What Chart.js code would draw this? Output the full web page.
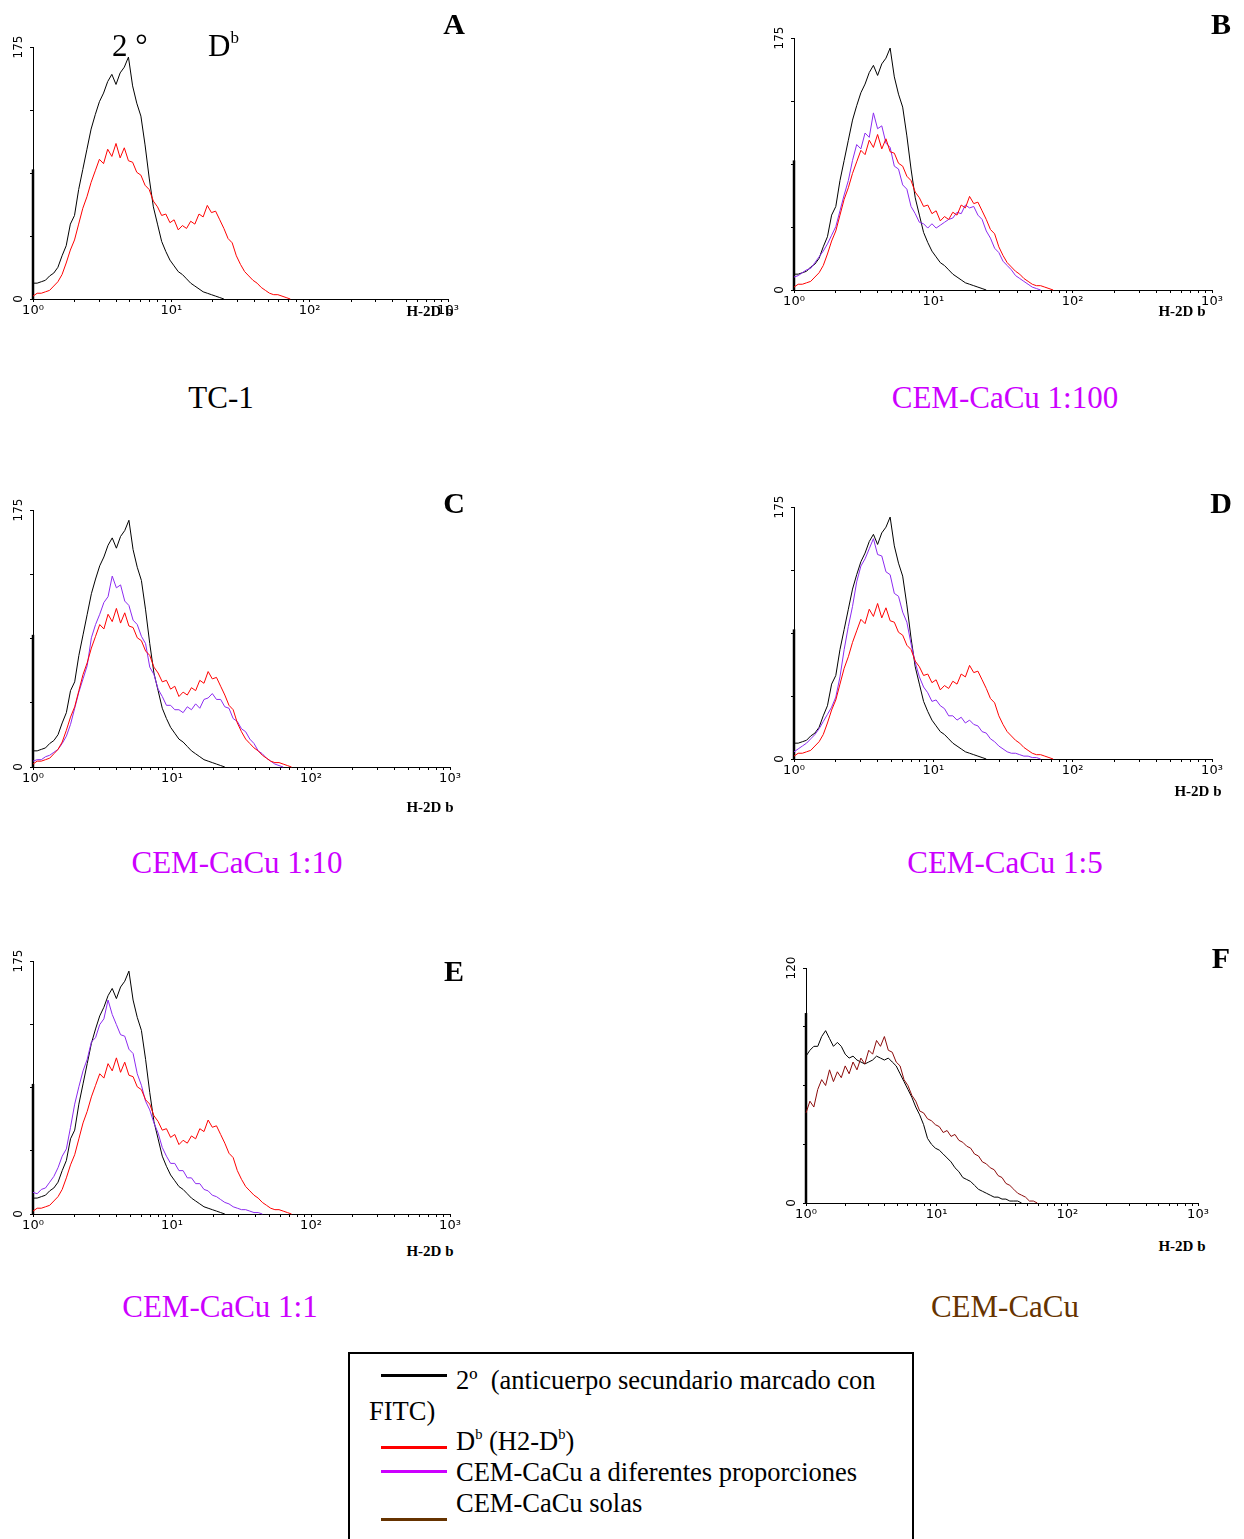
<!DOCTYPE html>
<html>
<head>
<meta charset="utf-8">
<script src="https://cdn.jsdelivr.net/npm/chart.js@4.4.0/dist/chart.umd.min.js"></script>
<style>
  html, body { margin: 0; padding: 0; background: #fff; overflow: hidden; }
  body { width: 1244px; height: 1539px; position: relative; font-family: "Liberation Serif", "Times New Roman", serif; color: #000; }
  canvas { position: absolute; }
  .t { position: absolute; white-space: nowrap; line-height: 1; }
  .c { transform: translate(-50%, -50%); }
  .l { transform: translate(0, -50%); }
  .letter { font-weight: bold; font-size: 30px; }
  .axname { font-weight: bold; font-size: 15px; }
  .title { font-size: 31px; }
  .leg { font-size: 26.5px; }
  .legline { position: absolute; left: 381px; width: 66px; height: 3px; }
  sup { font-size: 0.55em; vertical-align: 0.75em; line-height: 0; }
  #legendBox { position: absolute; left: 348px; top: 1352px; width: 566px; height: 200px; border: 2px solid #000; box-sizing: border-box; }
</style>
</head>
<body>

<canvas id="chartA"></canvas>
<canvas id="chartB"></canvas>
<canvas id="chartC"></canvas>
<canvas id="chartD"></canvas>
<canvas id="chartE"></canvas>
<canvas id="chartF"></canvas>

<!-- panel letters -->
<div class="t c letter" style="left:454px;top:24px">A</div>
<div class="t c letter" style="left:1221px;top:24px">B</div>
<div class="t c letter" style="left:454px;top:503px">C</div>
<div class="t c letter" style="left:1221px;top:503px">D</div>
<div class="t c letter" style="left:454px;top:971px">E</div>
<div class="t c letter" style="left:1221px;top:958px">F</div>

<!-- curve tags in A -->
<div class="t l" style="left:112px;top:45px;font-size:31px">2 °</div>
<div class="t l" style="left:208px;top:45px;font-size:31px">D<sup>b</sup></div>

<!-- axis names -->
<div class="t c axname" style="left:430px;top:311px">H-2D b</div>
<div class="t c axname" style="left:1182px;top:311px">H-2D b</div>
<div class="t c axname" style="left:430px;top:807px">H-2D b</div>
<div class="t c axname" style="left:1198px;top:791px">H-2D b</div>
<div class="t c axname" style="left:430px;top:1251px">H-2D b</div>
<div class="t c axname" style="left:1182px;top:1246px">H-2D b</div>

<!-- panel titles -->
<div class="t c title" style="left:221px;top:397px">TC-1</div>
<div class="t c title" style="left:1005px;top:397px;color:#cc00ff">CEM-CaCu 1:100</div>
<div class="t c title" style="left:237px;top:862px;color:#cc00ff">CEM-CaCu 1:10</div>
<div class="t c title" style="left:1005px;top:862px;color:#cc00ff">CEM-CaCu 1:5</div>
<div class="t c title" style="left:220px;top:1306px;color:#cc00ff">CEM-CaCu 1:1</div>
<div class="t c title" style="left:1005px;top:1306px;color:#663300">CEM-CaCu</div>

<!-- legend -->
<div id="legendBox"></div>
<div class="legline" style="top:1374px;background:#000"></div>
<div class="t l leg" style="left:456px;top:1380px">2º&nbsp; (anticuerpo secundario marcado con</div>
<div class="t l leg" style="left:369px;top:1411px">FITC)</div>
<div class="legline" style="top:1446px;background:#ff0000"></div>
<div class="t l leg" style="left:456px;top:1441px">D<sup>b</sup> (H2-D<sup>b</sup>)</div>
<div class="legline" style="top:1470px;background:#cc00ff"></div>
<div class="t l leg" style="left:456px;top:1472px">CEM-CaCu a diferentes proporciones</div>
<div class="t l leg" style="left:456px;top:1503px">CEM-CaCu solas</div>
<div class="legline" style="top:1518px;background:#663300"></div>

<script>
// channel positions, in decades above 10^0
const channels = [0, 0.03, 0.06, 0.09, 0.12, 0.15, 0.18, 0.21, 0.24, 0.27,
  0.30, 0.33, 0.36, 0.39, 0.42, 0.45, 0.48, 0.51, 0.54, 0.57,
  0.60, 0.63, 0.66, 0.69, 0.72, 0.75, 0.78, 0.81, 0.84, 0.87,
  0.90, 0.93, 0.96, 0.99, 1.02, 1.05, 1.08, 1.11, 1.14, 1.17,
  1.20, 1.23, 1.26, 1.29, 1.32, 1.35, 1.38, 1.41, 1.44, 1.47,
  1.50, 1.53, 1.56, 1.59, 1.62, 1.65, 1.68, 1.71, 1.74, 1.77,
  1.80, 1.83, 1.86, 1.89];

const decadeLabels = ['10\u2070', '10\u00b9', '10\u00b2', '10\u00b3'];

// pile-up in the first channel of the control
const firstChannelSpike = 90;
const firstChannelSpikeF = 97;

// 2nd antibody control (black), same in A-E
const secondary = [11, 11, 12, 13, 16, 18, 22, 30, 37, 52, 58, 76, 90, 104, 118, 128, 137, 143, 151, 156,
  149, 157, 161, 168, 148, 136, 127, 107, 84, 64, 52, 40, 33, 27, 23, 19, 17, 14, 11, 9,
  7, 5, 4, 3, 2, 1, 0];

// H-2Db stain (red), same in A-E
const h2db = [2, 4, 4, 5, 6, 9, 12, 17, 25, 34, 41, 52, 63, 71, 81, 89, 97, 94, 104, 99,
  108, 98, 105, 96, 95, 88, 86, 79, 76, 68, 64, 58, 59, 53, 55, 48, 51, 49, 54, 52,
  59, 57, 65, 60, 61, 55, 49, 42, 39, 30, 24, 19, 16, 13, 11, 8, 6, 4, 3, 3,
  2, 1, 0];

// CEM-CaCu mixes (purple)
const mix100 = [9, 10, 12, 14, 15, 19, 23, 27, 32, 38, 44, 55, 66, 76, 90, 101, 98, 109, 106, 123,
  112, 114, 102, 99, 86, 84, 73, 70, 58, 53, 47, 46, 43, 46, 43, 45, 47, 49, 50, 54,
  53, 59, 57, 58, 52, 49, 41, 36, 29, 26, 20, 17, 14, 10, 8, 6, 4, 2, 1, 0];
const mix10 = [4, 5, 5, 7, 8, 10, 12, 16, 21, 29, 40, 51, 60, 69, 88, 97, 104, 112, 116, 130,
  122, 124, 113, 110, 100, 97, 89, 84, 68, 63, 53, 48, 42, 42, 39, 39, 37, 41, 39, 43,
  40, 46, 47, 50, 46, 46, 41, 40, 33, 31, 26, 24, 19, 16, 11, 9, 6, 4, 2, 1, 0];
const mix5 = [5, 7, 9, 11, 14, 17, 21, 26, 31, 36, 43, 57, 76, 92, 106, 123, 134, 139, 146, 153,
  142, 141, 130, 128, 115, 113, 102, 95, 80, 67, 57, 50, 46, 40, 41, 37, 35, 30, 30, 27,
  29, 25, 27, 24, 23, 19, 18, 14, 12, 9, 7, 5, 4, 4, 3, 2, 2, 1, 1, 0];
const mix1 = [15, 14, 17, 18, 22, 26, 32, 40, 45, 60, 76, 88, 99, 107, 119, 122, 131, 135, 148, 138,
  131, 124, 123, 114, 111, 97, 89, 78, 72, 63, 56, 46, 40, 35, 35, 30, 30, 25, 25, 21,
  21, 17, 16, 13, 12, 10, 8, 7, 5, 4, 3, 3, 2, 1, 1, 0];

// panel F: CEM-CaCu alone
const secondaryF = [75, 78, 80, 80, 85, 88, 84, 80, 82, 80, 76, 74, 75, 73, 72, 71, 72, 73, 75, 74,
  73, 74, 72, 70, 66, 62, 58, 54, 49, 45, 40, 33, 30, 28, 27, 25, 23, 21, 18, 16,
  13, 12, 11, 9, 7, 6, 5, 4, 3, 3, 2, 2, 1, 1, 1, 0];
const cemAlone = [46, 52, 49, 58, 63, 60, 68, 62, 67, 64, 70, 66, 72, 68, 74, 71, 78, 76, 83, 80,
  85, 78, 77, 72, 70, 63, 60, 55, 52, 47, 46, 43, 42, 40, 39, 36, 37, 34, 35, 32,
  31, 29, 28, 25, 24, 21, 20, 18, 17, 14, 13, 10, 9, 7, 5, 4, 3, 1, 1, 0];

const BLACK = '#000000';
const RED = '#ff0000';
const PURPLE = '#8c2bf0';
const MAROON = '#8b0a0a';

function toPoints(values) {
  return values.map((v, i) => ({ x: channels[i], y: v }));
}

// log minor ticks along the x axis
function logTicks() {
  const ticks = [];
  for (let d = 0; d < 3; d++) {
    ticks.push({ value: d });
    for (let k = 2; k < 10; k++) ticks.push({ value: d + Math.log10(k) });
  }
  ticks.push({ value: 3 });
  return ticks;
}

const yEndLabels = {
  id: 'yEndLabels',
  afterDraw(chart) {
    const { ctx, chartArea, scales } = chart;
    const y = scales.y;
    ctx.save();
    ctx.font = '12px "DejaVu Sans"';
    ctx.fillStyle = '#000';
    ctx.textAlign = 'center';
    ctx.textBaseline = 'middle';
    [y.min, y.max].forEach(v => {
      ctx.save();
      ctx.translate(chartArea.left - 14, y.getPixelForValue(v));
      ctx.rotate(-Math.PI / 2);
      ctx.fillText(String(v), 0, 0);
      ctx.restore();
    });
    ctx.restore();
  }
};

function makePanel(id, box, yMax, spike, series) {
  const canvas = document.getElementById(id);
  const w = box.right - box.left + 80;
  const h = box.bottom - box.top + 40;
  canvas.width = w;
  canvas.height = h;
  canvas.style.left = (box.left - 40) + 'px';
  canvas.style.top = (box.top - 20) + 'px';
  canvas.style.width = w + 'px';
  canvas.style.height = h + 'px';

  const datasets = series.map(s => ({
    data: toPoints(s.values),
    borderColor: s.color,
    borderWidth: 1,
    pointRadius: 0,
    tension: 0,
    fill: false,
    clip: false
  }));
  // first-channel pile-up of the control, drawn as a bar on the axis
  datasets.push({
    data: [{ x: 0, y: 0 }, { x: 0, y: spike }],
    borderColor: BLACK,
    borderWidth: 2.5,
    pointRadius: 0,
    fill: false,
    clip: false
  });

  new Chart(canvas, {
    type: 'line',
    data: { datasets },
    options: {
      responsive: false,
      animation: false,
      events: [],
      layout: { padding: { top: 20, right: 40, left: 0, bottom: 0 } },
      plugins: { legend: { display: false }, tooltip: { enabled: false } },
      scales: {
        x: {
          type: 'linear',
          min: 0,
          max: 3,
          afterFit: s => { s.height = 20; },
          afterBuildTicks: s => { s.ticks = logTicks(); },
          ticks: {
            autoSkip: false,
            maxRotation: 0,
            padding: 1,
            color: '#000',
            font: { family: 'DejaVu Sans', size: 13 },
            callback: v => Number.isInteger(v) ? decadeLabels[v] : ''
          },
          grid: { drawOnChartArea: false, drawTicks: true, tickLength: 3, color: '#000' },
          border: { color: '#000', width: 1 }
        },
        y: {
          min: 0,
          max: yMax,
          afterFit: s => { s.width = 40; },
          afterBuildTicks: s => { s.ticks = [0, 1, 2, 3, 4].map(q => ({ value: yMax * q / 4 })); },
          ticks: { display: false },
          grid: { drawOnChartArea: false, drawTicks: true, tickLength: 3, color: '#000' },
          border: { color: '#000', width: 1 }
        }
      }
    },
    plugins: [yEndLabels]
  });
}

makePanel('chartA', { left: 33, right: 448, top: 47, bottom: 299 }, 175, firstChannelSpike, [
  { values: h2db, color: RED },
  { values: secondary, color: BLACK }
]);
makePanel('chartB', { left: 794, right: 1212, top: 38, bottom: 290 }, 175, firstChannelSpike, [
  { values: h2db, color: RED },
  { values: mix100, color: PURPLE },
  { values: secondary, color: BLACK }
]);
makePanel('chartC', { left: 33, right: 450, top: 510, bottom: 767 }, 175, firstChannelSpike, [
  { values: h2db, color: RED },
  { values: mix10, color: PURPLE },
  { values: secondary, color: BLACK }
]);
makePanel('chartD', { left: 794, right: 1212, top: 507, bottom: 759 }, 175, firstChannelSpike, [
  { values: h2db, color: RED },
  { values: mix5, color: PURPLE },
  { values: secondary, color: BLACK }
]);
makePanel('chartE', { left: 33, right: 450, top: 961, bottom: 1214 }, 175, firstChannelSpike, [
  { values: h2db, color: RED },
  { values: mix1, color: PURPLE },
  { values: secondary, color: BLACK }
]);
makePanel('chartF', { left: 806, right: 1198, top: 968, bottom: 1203 }, 120, firstChannelSpikeF, [
  { values: cemAlone, color: MAROON },
  { values: secondaryF, color: BLACK }
]);
</script>
</body>
</html>
